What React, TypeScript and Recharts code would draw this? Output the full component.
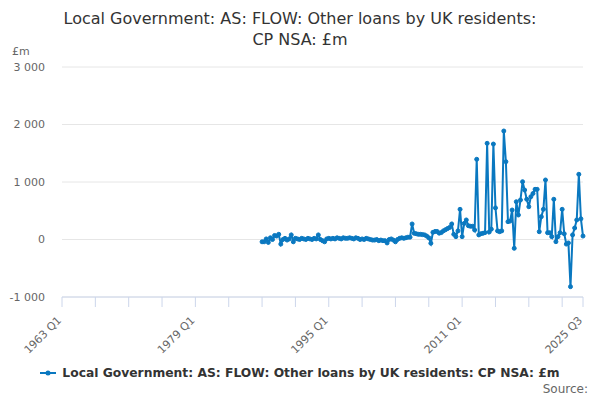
import React from 'react';
import { LineChart, Line, XAxis, YAxis, CartesianGrid } from 'recharts';

const title = 'Local Government: AS: FLOW: Other loans by UK residents: CP NSA: £m';
const titleLines = ['Local Government: AS: FLOW: Other loans by UK residents:', 'CP NSA: £m'];
const unitLabel = '£m';
const sourceLabel = 'Source:';

const firstYear = 1963;
const lastYear = 2025;
const lastQuarter = 3;
const quarters: string[] = [];
for (let y = firstYear; y <= lastYear; y++) {
  for (let q = 1; q <= 4; q++) {
    if (y === lastYear && q > lastQuarter) break;
    quarters.push(`${y} Q${q}`);
  }
}

const seriesStart = '1987 Q1';
const values: number[] = [
  -40, -40, 10, -50, 30, 0, 70, 60, 90, -80, 0, 20, -10, 10, 80, -40,
  20, 10, 0, 20, 10, 0, 20, 10, 0, 20, 10, 80, 0, -20, -40, 10,
  20, 10, 20, 10, 30, 20, 10, 30, 20, 20, 30, 20, 10, 30, 20, 0,
  10, 0, 20, 10, 0, -10, -10, 0, -20, -10, -20, -20, -60, 0, 10, -10,
  -40, 0, 20, 30, 20, 30, 40, 40,
  270, 108, 100, 90, 90, 85, 80, 60, 30, -65, 125, 140, 140, 110, 120, 150,
  170, 190, 210, 270, 90, 50, 150, 525, 50, 280, 340, 240, 230, 230, 165, 1395,
  80, 100, 108, 120, 1673, 130, 180, 1660, 550, 150, 136, 150, 1887, 1353, 310, 320,
  513, -153, 657, 426, 687, 1005, 860, 700, 570, 745, 800, 873, 873, 136, 397, 525,
  1035, 118, 118, 50, 700, -38, 50, 118, 525, 100, -80, -60, -820, 80, 200, 340,
  1134, 360, 60,
];

const xTicks = [
  '1963 Q1', '1967 Q1', '1971 Q1', '1975 Q1', '1979 Q1', '1983 Q1', '1987 Q1', '1991 Q1',
  '1995 Q1', '1999 Q1', '2003 Q1', '2007 Q1', '2011 Q1', '2015 Q1', '2019 Q1', '2023 Q1', '2025 Q3',
];
const xLabels = ['1963 Q1', '1979 Q1', '1995 Q1', '2011 Q1', '2025 Q3'];
const yTicks = [-1000, 0, 1000, 2000, 3000];

const startIndex = quarters.indexOf(seriesStart);
const data = quarters.map((label, i) => ({
  label,
  value: i >= startIndex && values[i - startIndex] !== undefined ? values[i - startIndex] : null,
}));

const lineColor = '#0a78c0';
const font = '"DejaVu Sans", sans-serif';

const fmtY = (v: number) => {
  const s = Math.abs(v).toString().replace(/\B(?=(\d{3})+(?!\d))/g, ' ');
  return (v < 0 ? '-' : '') + s;
};

const XTick = (props: any) => {
  const { x, y, payload } = props;
  const v = payload.value as string;
  if (!xLabels.includes(v)) return null;
  const ax = x;
  const ay = y + 12;
  return (
    <text
      x={ax}
      y={ay}
      transform={`rotate(-45, ${ax}, ${ay})`}
      textAnchor="end"
      fontSize={11}
      fill="#666666"
      fontFamily={font}
    >
      {v}
    </text>
  );
};

export default function App() {
  return (
    <div style={{ position: 'absolute', left: 0, top: 0, width: 600, height: 400, fontFamily: font, background: '#fff' }}>
      <div
        style={{
          position: 'absolute',
          top: 8,
          left: 0,
          width: 600,
          textAlign: 'center',
          fontSize: 16,
          lineHeight: '21px',
          color: '#333333',
        }}
      >
        {titleLines.map((t) => (
          <div key={t}>{t}</div>
        ))}
      </div>
      <div style={{ position: 'absolute', top: 45, left: 12, fontSize: 11, color: '#666666' }}>{unitLabel}</div>
      <LineChart
        width={600}
        height={400}
        data={data}
        margin={{ top: 67, right: 17, bottom: 73, left: 0 }}
      >
        <CartesianGrid horizontal vertical={false} stroke="#e6e6e6" />
        <XAxis
          dataKey="label"
          ticks={xTicks}
          interval={0}
          tick={<XTick />}
          tickSize={10}
          height={30}
          axisLine={{ stroke: '#ccd6eb' }}
          tickLine={{ stroke: '#ccd6eb' }}
        />
        <YAxis
          width={62}
          domain={[-1000, 3000]}
          ticks={yTicks}
          tickFormatter={fmtY}
          axisLine={false}
          tickLine={false}
          tickSize={0}
          tickMargin={17}
          tick={{ fontSize: 11, fill: '#666666', fontFamily: font }}
        />
        <Line
          type="linear"
          dataKey="value"
          name={title}
          stroke={lineColor}
          strokeWidth={2}
          dot={{ r: 2, fill: lineColor, stroke: lineColor, strokeWidth: 1 }}
          isAnimationActive={false}
        />
      </LineChart>
      <div
        style={{
          position: 'absolute',
          top: 366,
          left: 0,
          width: 600,
          display: 'flex',
          justifyContent: 'center',
          alignItems: 'center',
          fontSize: 12.3,
          fontWeight: 'bold',
          color: '#333333',
        }}
      >
        <svg width={16} height={12} style={{ marginRight: 6 }}>
          <line x1={0} y1={6} x2={16} y2={6} stroke={lineColor} strokeWidth={2} />
          <circle cx={8} cy={6} r={2.5} fill={lineColor} />
        </svg>
        <span>{title}</span>
      </div>
      <div style={{ position: 'absolute', top: 382, right: 12, fontSize: 12, color: '#666666' }}>{sourceLabel}</div>
    </div>
  );
}
